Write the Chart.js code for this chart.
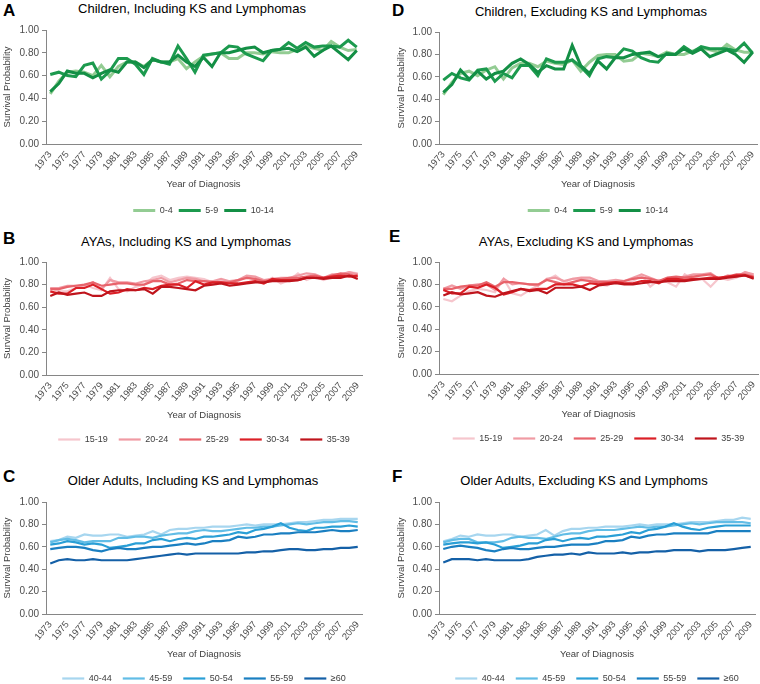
<!DOCTYPE html>
<html>
<head>
<meta charset="utf-8">
<script src="https://cdn.jsdelivr.net/npm/chart.js@4.4.0/dist/chart.umd.min.js"></script>
<style>
  body { margin: 0; width: 760px; height: 684px; overflow: hidden; background: #fff; position: relative; font-family: "Liberation Sans", Arial, sans-serif; }
  canvas { position: absolute; }
  .letter { position: absolute; font-weight: bold; font-size: 17px; line-height: 17px; color: #000; }
  .ptitle { position: absolute; width: 320px; text-align: center; font-size: 13px; line-height: 13px; color: #000; white-space: nowrap; }
</style>
</head>
<body>
<div class="letter" style="left:3px;top:2px">A</div>
<div class="letter" style="left:392px;top:2px">D</div>
<div class="letter" style="left:3px;top:230px">B</div>
<div class="letter" style="left:389px;top:228px">E</div>
<div class="letter" style="left:3px;top:468px">C</div>
<div class="letter" style="left:392px;top:468px">F</div>

<div class="ptitle" style="left:32px;top:2px">Children, Including KS and Lymphomas</div>
<div class="ptitle" style="left:431px;top:5px">Children, Excluding KS and Lymphomas</div>
<div class="ptitle" style="left:26px;top:235px">AYAs, Including KS and Lymphomas</div>
<div class="ptitle" style="left:426px;top:235px">AYAs, Excluding KS and Lymphomas</div>
<div class="ptitle" style="left:33px;top:474px">Older Adults, Including KS and Lymphomas</div>
<div class="ptitle" style="left:424px;top:474px">Older Adults, Excluding KS and Lymphoms</div>

<canvas id="cA" width="380" height="205" style="left:0;top:20px"></canvas>
<canvas id="cD" width="380" height="203" style="left:380px;top:22px"></canvas>
<canvas id="cB" width="380" height="202" style="left:0;top:252px"></canvas>
<canvas id="cE" width="380" height="201" style="left:380px;top:252px"></canvas>
<canvas id="cC" width="380" height="201" style="left:0;top:492px"></canvas>
<canvas id="cF" width="380" height="201" style="left:380px;top:492px"></canvas>

<script>
const years = ['1973','1974','1975','1976','1977','1978','1979','1980','1981','1982','1983','1984','1985','1986','1987','1988','1989','1990','1991','1992','1993','1994','1995','1996','1997','1998','1999','2000','2001','2002','2003','2004','2005','2006','2007','2008','2009'];

const childNames = ['0-4', '5-9', '10-14'];
const ayaNames = ['15-19', '20-24', '25-29', '30-34', '35-39'];
const olderNames = ['40-44', '45-59', '50-54', '55-59', '\u226560'];

// children, including KS and lymphomas
const childInc04   = [0.44,0.55,0.63,0.64,0.63,0.60,0.69,0.59,0.68,0.72,0.72,0.68,0.74,0.72,0.72,0.75,0.66,0.72,0.77,0.79,0.80,0.75,0.75,0.80,0.80,0.79,0.81,0.80,0.80,0.83,0.86,0.84,0.82,0.90,0.85,0.82,0.83];
const childInc59   = [0.61,0.63,0.60,0.59,0.69,0.71,0.57,0.64,0.75,0.75,0.70,0.61,0.75,0.72,0.70,0.86,0.75,0.63,0.78,0.79,0.80,0.86,0.85,0.79,0.76,0.73,0.82,0.83,0.89,0.84,0.89,0.85,0.86,0.86,0.85,0.91,0.85];
const childInc1014 = [0.46,0.53,0.64,0.62,0.62,0.58,0.62,0.65,0.63,0.72,0.72,0.67,0.74,0.72,0.72,0.78,0.72,0.68,0.76,0.68,0.80,0.80,0.82,0.84,0.85,0.80,0.82,0.83,0.84,0.81,0.85,0.77,0.82,0.86,0.80,0.74,0.82];

// children, excluding
const childExc04   = [0.44,0.55,0.63,0.65,0.61,0.66,0.69,0.58,0.68,0.72,0.72,0.69,0.74,0.72,0.71,0.75,0.65,0.73,0.79,0.80,0.80,0.74,0.75,0.81,0.80,0.78,0.82,0.80,0.80,0.83,0.86,0.84,0.82,0.89,0.84,0.82,0.82];
const childExc59   = [0.57,0.63,0.59,0.57,0.66,0.67,0.56,0.63,0.59,0.70,0.70,0.61,0.76,0.73,0.73,0.75,0.69,0.61,0.76,0.78,0.77,0.85,0.83,0.77,0.74,0.73,0.81,0.80,0.87,0.82,0.87,0.85,0.85,0.85,0.83,0.90,0.81];
const childExc1014 = [0.46,0.53,0.66,0.58,0.65,0.58,0.63,0.65,0.72,0.76,0.71,0.64,0.70,0.67,0.67,0.88,0.70,0.63,0.74,0.67,0.77,0.77,0.80,0.81,0.82,0.78,0.80,0.80,0.85,0.81,0.85,0.78,0.81,0.84,0.80,0.73,0.82];

// AYAs, including
const ayaInc1519 = [0.77,0.74,0.74,0.77,0.80,0.77,0.75,0.86,0.76,0.74,0.78,0.80,0.86,0.88,0.84,0.86,0.87,0.86,0.85,0.82,0.84,0.82,0.83,0.87,0.84,0.82,0.86,0.81,0.84,0.90,0.84,0.87,0.84,0.87,0.88,0.91,0.90];
const ayaInc2024 = [0.77,0.77,0.79,0.79,0.79,0.82,0.76,0.84,0.82,0.82,0.81,0.83,0.84,0.86,0.82,0.84,0.86,0.85,0.83,0.83,0.85,0.83,0.84,0.88,0.87,0.84,0.85,0.86,0.86,0.88,0.90,0.89,0.86,0.89,0.89,0.91,0.89];
const ayaInc2529 = [0.76,0.76,0.78,0.79,0.80,0.82,0.79,0.80,0.81,0.81,0.80,0.80,0.83,0.83,0.80,0.81,0.84,0.83,0.83,0.82,0.82,0.82,0.84,0.86,0.85,0.83,0.84,0.85,0.86,0.86,0.87,0.88,0.86,0.88,0.90,0.89,0.87];
const ayaInc3034 = [0.74,0.72,0.72,0.77,0.77,0.80,0.76,0.72,0.73,0.76,0.75,0.77,0.76,0.79,0.80,0.80,0.77,0.83,0.80,0.82,0.82,0.81,0.81,0.82,0.83,0.81,0.85,0.84,0.84,0.84,0.86,0.86,0.86,0.87,0.88,0.87,0.88];
const ayaInc3539 = [0.70,0.73,0.71,0.72,0.73,0.70,0.70,0.74,0.75,0.75,0.75,0.76,0.72,0.78,0.78,0.77,0.76,0.75,0.79,0.80,0.81,0.79,0.80,0.81,0.82,0.82,0.83,0.83,0.83,0.84,0.86,0.86,0.85,0.86,0.86,0.88,0.85];

// AYAs, excluding
const ayaExc1519 = [0.67,0.65,0.70,0.74,0.76,0.75,0.73,0.85,0.72,0.70,0.75,0.79,0.84,0.88,0.82,0.85,0.85,0.84,0.80,0.79,0.83,0.81,0.83,0.88,0.78,0.84,0.82,0.78,0.89,0.84,0.85,0.78,0.86,0.84,0.86,0.91,0.88];
const ayaExc2024 = [0.76,0.79,0.76,0.79,0.80,0.80,0.75,0.85,0.80,0.81,0.80,0.79,0.85,0.86,0.83,0.85,0.86,0.86,0.83,0.83,0.84,0.83,0.86,0.89,0.86,0.83,0.85,0.85,0.87,0.89,0.89,0.90,0.85,0.88,0.87,0.91,0.89];
const ayaExc2529 = [0.76,0.76,0.78,0.79,0.79,0.82,0.78,0.82,0.82,0.81,0.80,0.80,0.84,0.82,0.80,0.82,0.84,0.83,0.82,0.82,0.82,0.83,0.85,0.86,0.85,0.83,0.86,0.87,0.86,0.87,0.88,0.89,0.85,0.87,0.89,0.89,0.87];
const ayaExc3034 = [0.75,0.72,0.72,0.78,0.77,0.80,0.77,0.71,0.73,0.76,0.75,0.76,0.76,0.80,0.80,0.80,0.78,0.81,0.80,0.81,0.82,0.81,0.81,0.83,0.83,0.81,0.85,0.85,0.84,0.85,0.85,0.86,0.86,0.87,0.88,0.88,0.86];
const ayaExc3539 = [0.70,0.73,0.71,0.72,0.73,0.70,0.69,0.72,0.74,0.76,0.74,0.75,0.72,0.77,0.77,0.77,0.78,0.75,0.79,0.80,0.81,0.80,0.80,0.81,0.82,0.82,0.83,0.83,0.83,0.84,0.85,0.85,0.85,0.86,0.87,0.88,0.85];

// older adults, including
const olderInc4044 = [0.65,0.66,0.69,0.68,0.71,0.70,0.70,0.71,0.71,0.69,0.70,0.71,0.74,0.71,0.75,0.76,0.76,0.77,0.77,0.78,0.78,0.78,0.79,0.80,0.79,0.80,0.80,0.80,0.81,0.82,0.82,0.83,0.84,0.84,0.85,0.85,0.85];
const olderInc4559 = [0.64,0.66,0.67,0.66,0.64,0.65,0.65,0.65,0.68,0.68,0.69,0.69,0.68,0.70,0.71,0.72,0.72,0.74,0.75,0.74,0.74,0.75,0.76,0.77,0.77,0.78,0.78,0.79,0.80,0.81,0.80,0.81,0.82,0.82,0.83,0.83,0.82];
const olderInc5054 = [0.62,0.63,0.65,0.64,0.62,0.63,0.62,0.59,0.60,0.61,0.63,0.63,0.66,0.67,0.65,0.67,0.68,0.67,0.69,0.69,0.70,0.71,0.73,0.72,0.75,0.76,0.78,0.81,0.77,0.75,0.74,0.77,0.77,0.78,0.78,0.79,0.78];
const olderInc5559 = [0.58,0.59,0.60,0.60,0.59,0.57,0.56,0.58,0.59,0.58,0.58,0.59,0.60,0.60,0.61,0.62,0.63,0.62,0.63,0.65,0.65,0.66,0.69,0.68,0.69,0.71,0.71,0.72,0.72,0.73,0.73,0.73,0.74,0.75,0.74,0.74,0.75];
const olderInc60   = [0.45,0.48,0.49,0.48,0.48,0.49,0.48,0.48,0.48,0.48,0.49,0.50,0.51,0.52,0.53,0.54,0.53,0.54,0.54,0.54,0.54,0.54,0.54,0.55,0.55,0.56,0.56,0.57,0.58,0.58,0.57,0.57,0.58,0.58,0.59,0.59,0.60];

// older adults, excluding
const olderExc4044 = [0.65,0.67,0.70,0.69,0.71,0.70,0.70,0.71,0.71,0.69,0.70,0.71,0.75,0.70,0.74,0.76,0.76,0.77,0.77,0.78,0.78,0.78,0.79,0.80,0.79,0.80,0.80,0.80,0.81,0.82,0.82,0.82,0.83,0.84,0.84,0.86,0.85];
const olderExc4559 = [0.64,0.66,0.67,0.67,0.64,0.64,0.64,0.65,0.68,0.69,0.68,0.68,0.67,0.69,0.71,0.72,0.72,0.74,0.75,0.75,0.75,0.76,0.77,0.78,0.77,0.78,0.78,0.79,0.80,0.81,0.80,0.81,0.82,0.82,0.82,0.82,0.81];
const olderExc5054 = [0.62,0.63,0.64,0.64,0.63,0.64,0.62,0.59,0.60,0.61,0.63,0.63,0.66,0.67,0.65,0.67,0.68,0.67,0.69,0.69,0.70,0.71,0.73,0.72,0.75,0.76,0.78,0.81,0.78,0.76,0.75,0.77,0.78,0.79,0.79,0.79,0.79];
const olderExc5559 = [0.58,0.60,0.61,0.60,0.59,0.57,0.56,0.58,0.59,0.58,0.58,0.59,0.60,0.60,0.61,0.62,0.62,0.62,0.63,0.65,0.65,0.66,0.69,0.68,0.70,0.71,0.71,0.72,0.72,0.72,0.72,0.72,0.74,0.74,0.74,0.74,0.74];
const olderExc60   = [0.46,0.49,0.49,0.49,0.48,0.49,0.48,0.48,0.48,0.48,0.49,0.51,0.52,0.53,0.53,0.54,0.53,0.55,0.54,0.54,0.54,0.55,0.54,0.55,0.55,0.56,0.56,0.57,0.57,0.57,0.56,0.57,0.57,0.57,0.58,0.59,0.60];

const greens = ['#93cc93', '#1c9a4e', '#138f45'];
const reds = ['#f6c6cd', '#f09ba4', '#e8636b', '#db1f26', '#bf141c'];
const blues = ['#a7d6ef', '#62bde6', '#2a9fd6', '#1a7fc1', '#1460a7'];

const axisGrey = '#868686';
const tickGrey = '#4d4d4d';

function makeChart(id, names, series, colors, lineW, opts) {
  const few = names.length < 5;
  const xHeight = few ? 56 : 49;
  const legendPad = few ? 6 : 11;
  const titlePadBottom = few ? 10 : 3;

  new Chart(document.getElementById(id), {
    type: 'line',
    data: {
      labels: years,
      datasets: series.map((d, i) => ({
        label: names[i],
        data: d,
        borderColor: colors[i],
        backgroundColor: colors[i],
        borderWidth: lineW,
        pointRadius: 0,
        tension: 0,
        order: series.length - i
      }))
    },
    options: {
      responsive: false,
      animation: false,
      devicePixelRatio: 1,
      layout: { padding: { top: 10, bottom: 0, left: opts.padLeft, right: opts.padRight } },
      plugins: {
        tooltip: { enabled: false },
        title: { display: false },
        legend: {
          position: 'bottom',
          fullSize: false,
          labels: {
            usePointStyle: true,
            pointStyle: 'line',
            pointStyleWidth: 22,
            padding: legendPad,
            color: '#404040',
            font: { family: 'Liberation Sans', size: 9 },
            sort: (a, b) => a.datasetIndex - b.datasetIndex
          }
        }
      },
      scales: {
        x: {
          offset: true,
          grid: { display: false, drawTicks: false, tickLength: 0 },
          border: { color: axisGrey, width: 1 },
          ticks: {
            autoSkip: false,
            minRotation: 50,
            maxRotation: 50,
            padding: 5,
            color: tickGrey,
            font: { family: 'Liberation Sans', size: 9.5 },
            callback: function (v, i) { return i % 2 === 0 ? this.getLabelForValue(v) : ''; }
          },
          title: {
            display: true,
            text: 'Year of Diagnosis',
            color: '#404040',
            font: { family: 'Liberation Sans', size: 9.5 },
            padding: { top: 0, bottom: titlePadBottom }
          },
          afterFit: (s) => { s.height = xHeight; s.paddingLeft = 0; s.paddingRight = 0; }
        },
        y: {
          min: 0,
          max: 1,
          grid: { drawOnChartArea: false, drawTicks: true, tickLength: 4, color: axisGrey },
          border: { color: axisGrey, width: 1 },
          ticks: {
            stepSize: 0.2,
            padding: 3,
            color: tickGrey,
            font: { family: 'Liberation Sans', size: 10 },
            callback: (v) => Number(v).toFixed(2)
          },
          title: {
            display: true,
            text: 'Survival Probability',
            color: '#404040',
            font: { family: 'Liberation Sans', size: 9.5 },
            padding: { top: 2, bottom: 0 }
          },
          afterFit: (s) => { s.width = opts.yWidth; }
        }
      }
    }
  });
}

makeChart('cA', childNames, [childInc04, childInc59, childInc1014], greens, 3, { padLeft: 0, yWidth: 46, padRight: 19 });
makeChart('cD', childNames, [childExc04, childExc59, childExc1014], greens, 3, { padLeft: 14, yWidth: 45, padRight: 3 });
makeChart('cB', ayaNames, [ayaInc1519, ayaInc2024, ayaInc2529, ayaInc3034, ayaInc3539], reds, 2.2, { padLeft: 0, yWidth: 46, padRight: 18 });
makeChart('cE', ayaNames, [ayaExc1519, ayaExc2024, ayaExc2529, ayaExc3034, ayaExc3539], reds, 2.2, { padLeft: 14, yWidth: 45, padRight: 2 });
makeChart('cC', olderNames, [olderInc4044, olderInc4559, olderInc5054, olderInc5559, olderInc60], blues, 2.2, { padLeft: 0, yWidth: 46, padRight: 18 });
makeChart('cF', olderNames, [olderExc4044, olderExc4559, olderExc5054, olderExc5559, olderExc60], blues, 2.2, { padLeft: 14, yWidth: 45, padRight: 5 });
</script>
</body>
</html>
